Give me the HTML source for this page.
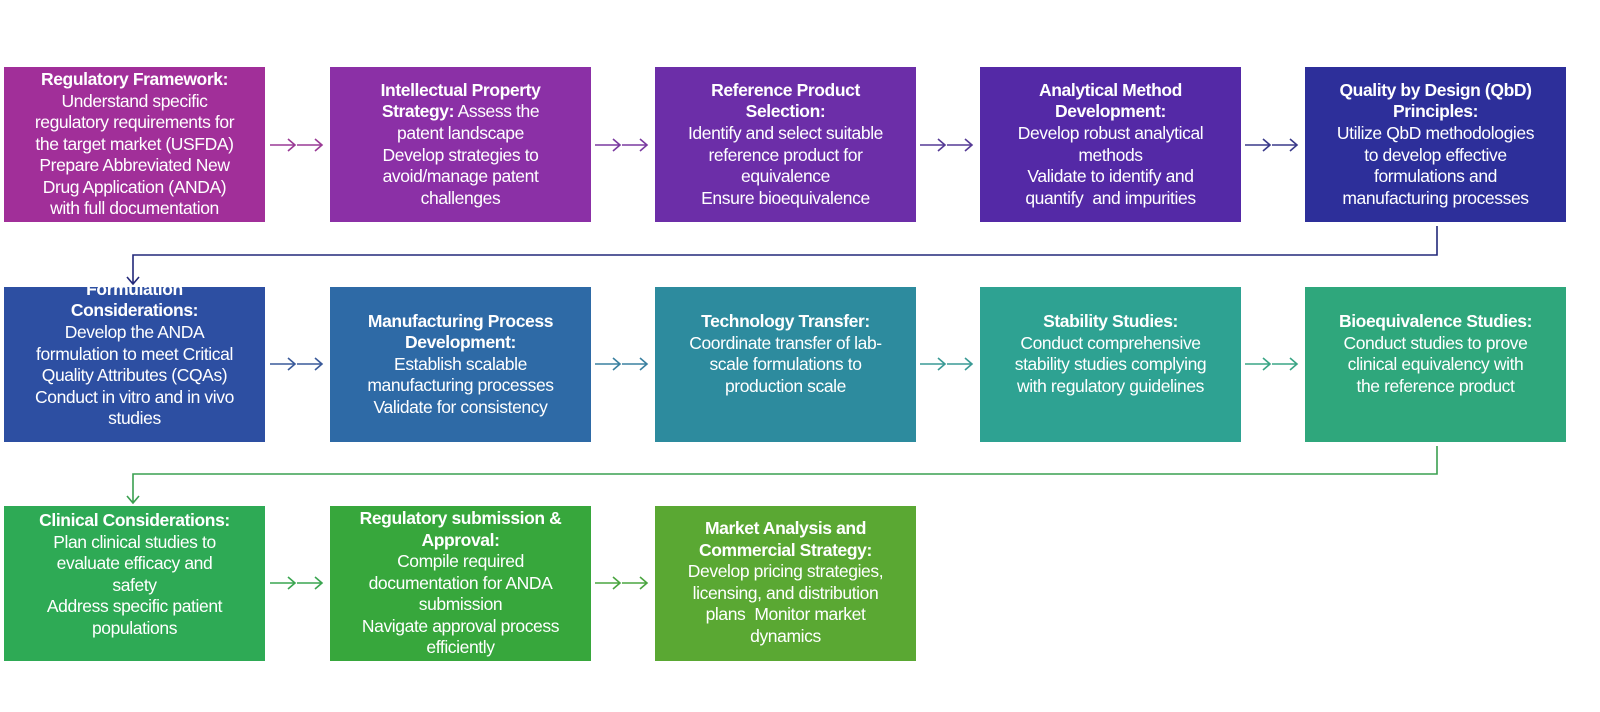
<!DOCTYPE html>
<html><head><meta charset="utf-8"><style>
body{margin:0;width:1600px;height:712px;background:#fff;position:relative;overflow:hidden;font-family:"Liberation Sans",sans-serif}
.b{position:absolute;width:261px;height:155px;color:#fff;display:flex;align-items:center;justify-content:center;text-align:center;font-size:17.5px;line-height:21.6px;overflow:hidden;box-sizing:border-box;padding:0 2px;letter-spacing:-0.4px}
.b b{font-weight:bold}
svg{position:absolute;left:0;top:0}
</style></head><body>
<div class="b" style="left:4px;top:67px;background:#a12f99"><div><b>Regulatory Framework:</b><br>Understand specific<br>regulatory requirements for<br>the target market (USFDA)<br>Prepare Abbreviated New<br>Drug Application (ANDA)<br>with full documentation</div></div>
<div class="b" style="left:330px;top:67px;background:#8b30a6"><div><b>Intellectual Property<br>Strategy:</b> Assess the<br>patent landscape<br>Develop strategies to<br>avoid/manage patent<br>challenges</div></div>
<div class="b" style="left:655px;top:67px;background:#6c2ea8"><div><b>Reference Product<br>Selection:</b><br>Identify and select suitable<br>reference product for<br>equivalence<br>Ensure bioequivalence</div></div>
<div class="b" style="left:980px;top:67px;background:#5429a6"><div><b>Analytical Method<br>Development:</b><br>Develop robust analytical<br>methods<br>Validate to identify and<br>quantify &nbsp;and impurities</div></div>
<div class="b" style="left:1305px;top:67px;background:#2d2f9a"><div><b>Quality by Design (QbD)<br>Principles:</b><br>Utilize QbD methodologies<br>to develop effective<br>formulations and<br>manufacturing processes</div></div>

<div class="b" style="left:4px;top:287px;background:#2d4fa2;align-items:flex-end;padding-bottom:12px"><div><b>Formulation<br>Considerations:</b><br>Develop the ANDA<br>formulation to meet Critical<br>Quality Attributes (CQAs)<br>Conduct in vitro and in vivo<br>studies</div></div>
<div class="b" style="left:330px;top:287px;background:#2e6aa6"><div><b>Manufacturing Process<br>Development:</b><br>Establish scalable<br>manufacturing processes<br>Validate for consistency</div></div>
<div class="b" style="left:655px;top:287px;background:#2d8b9e;align-items:flex-start;padding-top:24px"><div><b>Technology Transfer:</b><br>Coordinate transfer of lab-<br>scale formulations to<br>production scale</div></div>
<div class="b" style="left:980px;top:287px;background:#2ea292;align-items:flex-start;padding-top:24px"><div><b>Stability Studies:</b><br>Conduct comprehensive<br>stability studies complying<br>with regulatory guidelines</div></div>
<div class="b" style="left:1305px;top:287px;background:#2fa77c;align-items:flex-start;padding-top:24px"><div><b>Bioequivalence Studies:</b><br>Conduct studies to prove<br>clinical equivalency with<br>the reference product</div></div>

<div class="b" style="left:4px;top:506px;background:#2eaa55;align-items:flex-start;padding-top:4px"><div><b>Clinical Considerations:</b><br>Plan clinical studies to<br>evaluate efficacy and<br>safety<br>Address specific patient<br>populations</div></div>
<div class="b" style="left:330px;top:506px;background:#37a73c"><div><b>Regulatory submission &amp;<br>Approval:</b><br>Compile required<br>documentation for ANDA<br>submission<br>Navigate approval process<br>efficiently</div></div>
<div class="b" style="left:655px;top:506px;background:#5aa833;align-items:flex-start;padding-top:12px"><div><b>Market Analysis and<br>Commercial Strategy:</b><br>Develop pricing strategies,<br>licensing, and distribution<br>plans &nbsp;Monitor market<br>dynamics</div></div>

<svg width="1600" height="712" fill="none" stroke-width="1.6">
<defs>
<g id="ar"><path d="M0 0h25M18-6l7 6-7 6M27 0h25M45-6l7 6-7 6"/></g>
</defs>
<use href="#ar" x="270" y="145" stroke="#9a3a95"/>
<use href="#ar" x="595" y="145" stroke="#7a3aa0"/>
<use href="#ar" x="920" y="145" stroke="#553a95"/>
<use href="#ar" x="1245" y="145" stroke="#3a3a8a"/>
<use href="#ar" x="270" y="364" stroke="#3a5a9a"/>
<use href="#ar" x="595" y="364" stroke="#3a80a0"/>
<use href="#ar" x="920" y="364" stroke="#3a9a95"/>
<use href="#ar" x="1245" y="364" stroke="#3aa585"/>
<use href="#ar" x="270" y="583" stroke="#3aa550"/>
<use href="#ar" x="595" y="583" stroke="#4aa540"/>
<path d="M1437 226V255H133V284M127 277l6 7 6-7" stroke="#22287a"/>
<path d="M1437 446V474H133V503M127 496l6 7 6-7" stroke="#3aa050"/>
</svg>
</body></html>
